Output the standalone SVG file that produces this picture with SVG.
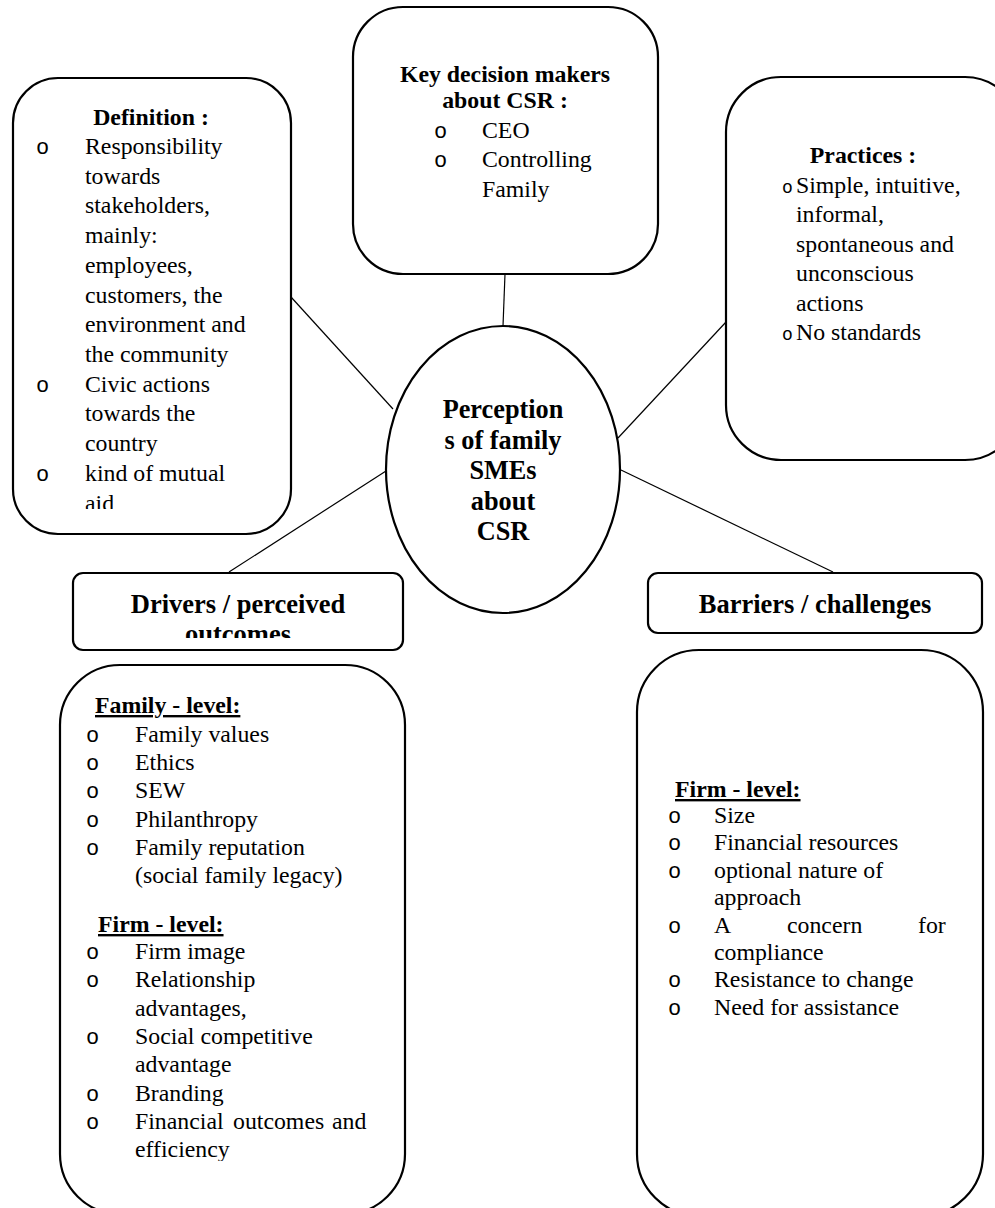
<svg xmlns="http://www.w3.org/2000/svg" width="995" height="1208" viewBox="0 0 995 1208">
<style>
.box{fill:#fff;stroke:#000;stroke-width:2.2}
.conn{stroke:#000;stroke-width:1.2;fill:none}
.t{font-family:"Liberation Serif","Times New Roman",serif;font-size:23.8px;fill:#000}
.b{font-weight:bold}
.h{font-family:"Liberation Serif","Times New Roman",serif;font-size:26.5px;font-weight:bold;fill:#000}
.u{text-decoration:underline}
.bul{font-family:"Liberation Mono","Courier New",monospace;font-size:22px;fill:#000}
.mid{text-anchor:middle}
</style>
<defs>
<clipPath id="c1"><rect x="13" y="78" width="278" height="431"/></clipPath>
<clipPath id="c2"><rect x="73" y="573" width="330" height="65"/></clipPath>
<clipPath id="c3"><rect x="60" y="665" width="345" height="496"/></clipPath>
</defs>
<g id="connectors">
<line class="conn" x1="291" y1="297" x2="393" y2="409"/>
<line class="conn" x1="386" y1="471" x2="229" y2="572"/>
<line class="conn" x1="505" y1="274" x2="503" y2="326"/>
<line class="conn" x1="618" y1="438" x2="726" y2="322"/>
<line class="conn" x1="621" y1="470" x2="833" y2="572"/>
</g>
<g id="definition">
<rect class="box" x="13" y="78" width="278" height="456" rx="45"/>
<g clip-path="url(#c1)">
<text class="t b mid" x="151" y="125">Definition :</text>
<text class="bul" x="36" y="154">o</text>
<text class="bul" x="36" y="391.6">o</text>
<text class="bul" x="36" y="480.7">o</text>
<text class="t" x="85" y="154">Responsibility</text>
<text class="t" x="85" y="183.7">towards</text>
<text class="t" x="85" y="213.4">stakeholders,</text>
<text class="t" x="85" y="243.1">mainly:</text>
<text class="t" x="85" y="272.8">employees,</text>
<text class="t" x="85" y="302.5">customers, the</text>
<text class="t" x="85" y="332.2">environment and</text>
<text class="t" x="85" y="361.9">the community</text>
<text class="t" x="85" y="391.6">Civic actions</text>
<text class="t" x="85" y="421.3">towards the</text>
<text class="t" x="85" y="451">country</text>
<text class="t" x="85" y="480.7">kind of mutual</text>
<text class="t" x="85" y="511">aid</text>
</g>
</g>
<g id="key-decision-makers">
<rect class="box" x="353" y="7" width="305" height="267" rx="50"/>
<text class="t b mid" x="505" y="82">Key decision makers</text>
<text class="t b mid" x="505" y="108">about CSR :</text>
<text class="bul" x="434" y="138">o</text>
<text class="bul" x="434" y="167">o</text>
<text class="t" x="482" y="138">CEO</text>
<text class="t" x="482" y="167">Controlling</text>
<text class="t" x="482" y="197">Family</text>
</g>
<g id="practices">
<rect class="box" x="726" y="77" width="294" height="383" rx="55"/>
<text class="t b mid" x="863" y="163">Practices :</text>
<text class="bul" x="782" y="193" style="font-size:18px">o</text>
<text class="bul" x="782" y="340" style="font-size:18px">o</text>
<text class="t" x="796" y="193">Simple, intuitive,</text>
<text class="t" x="796" y="222.4">informal,</text>
<text class="t" x="796" y="251.8">spontaneous and</text>
<text class="t" x="796" y="281.2">unconscious</text>
<text class="t" x="796" y="310.6">actions</text>
<text class="t" x="796" y="340">No standards</text>
</g>
<g id="center">
<ellipse class="box" cx="503" cy="469.5" rx="117" ry="143.5"/>
<text class="h mid" x="503" y="418" style="font-size:26.3px">Perception</text>
<text class="h mid" x="503" y="448.5" style="font-size:26.3px">s of family</text>
<text class="h mid" x="503" y="479" style="font-size:26.3px">SMEs</text>
<text class="h mid" x="503" y="509.5" style="font-size:26.3px">about</text>
<text class="h mid" x="503" y="540" style="font-size:26.3px">CSR</text>
</g>
<g id="drivers-header">
<rect class="box" x="73" y="573" width="330" height="77" rx="10"/>
<g clip-path="url(#c2)">
<text class="h mid" x="238" y="613">Drivers / perceived</text>
<text class="h mid" x="238" y="643">outcomes</text>
</g>
</g>
<g id="barriers-header">
<rect class="box" x="648" y="573" width="334" height="60" rx="10"/>
<text class="h mid" x="815" y="613">Barriers / challenges</text>
</g>
<g id="drivers-body">
<rect class="box" x="60" y="665" width="345" height="549" rx="60"/>
<g clip-path="url(#c3)">
<text class="t b u" x="95" y="713">Family - level:</text>
<text class="bul" x="86" y="742">o</text>
<text class="bul" x="86" y="770.2">o</text>
<text class="bul" x="86" y="798.4">o</text>
<text class="bul" x="86" y="826.6">o</text>
<text class="bul" x="86" y="854.8">o</text>
<text class="t" x="135" y="742">Family values</text>
<text class="t" x="135" y="770.2">Ethics</text>
<text class="t" x="135" y="798.4">SEW</text>
<text class="t" x="135" y="826.6">Philanthropy</text>
<text class="t" x="135" y="854.8">Family reputation</text>
<text class="t" x="135" y="883">(social family legacy)</text>
<text class="t b u" x="98" y="932">Firm - level:</text>
<text class="bul" x="86" y="959">o</text>
<text class="bul" x="86" y="987.3">o</text>
<text class="bul" x="86" y="1043.9">o</text>
<text class="bul" x="86" y="1100.5">o</text>
<text class="bul" x="86" y="1128.8">o</text>
<text class="t" x="135" y="959">Firm image</text>
<text class="t" x="135" y="987.3">Relationship</text>
<text class="t" x="135" y="1015.6">advantages,</text>
<text class="t" x="135" y="1043.9">Social competitive</text>
<text class="t" x="135" y="1072.2">advantage</text>
<text class="t" x="135" y="1100.5">Branding</text>
<text class="t" y="1128.8"><tspan x="135">Financial</tspan><tspan x="233">outcomes</tspan><tspan x="332">and</tspan></text>
<text class="t" x="135" y="1157.1">efficiency</text>
</g>
</g>
<g id="barriers-body">
<rect class="box" x="637" y="650" width="346" height="566" rx="62"/>
<text class="t b u" x="675" y="797">Firm - level:</text>
<text class="bul" x="668" y="823">o</text>
<text class="bul" x="668" y="850.4">o</text>
<text class="bul" x="668" y="877.8">o</text>
<text class="bul" x="668" y="932.6">o</text>
<text class="bul" x="668" y="987.4">o</text>
<text class="bul" x="668" y="1014.8">o</text>
<text class="t" x="714" y="823">Size</text>
<text class="t" x="714" y="850.4">Financial resources</text>
<text class="t" x="714" y="877.8">optional nature of</text>
<text class="t" x="714" y="905.2">approach</text>
<text class="t" y="932.6"><tspan x="714">A</tspan><tspan x="787">concern</tspan><tspan x="918">for</tspan></text>
<text class="t" x="714" y="960">compliance</text>
<text class="t" x="714" y="987.4">Resistance to change</text>
<text class="t" x="714" y="1014.8">Need for assistance</text>
</g>
</svg>
